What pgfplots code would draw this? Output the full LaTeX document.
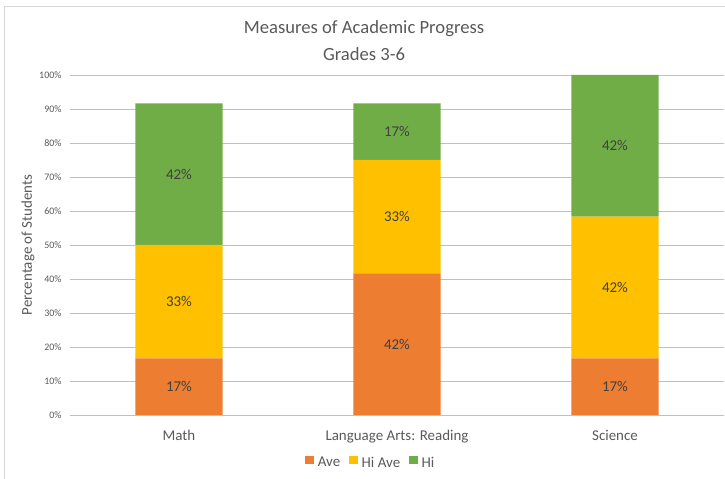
\documentclass[border=0pt]{standalone}
\usepackage{pgfplots}
\pgfplotsset{compat=1.18}
\usepackage{fontspec}
\setmainfont{Carlito}
\definecolor{cAve}{HTML}{ED7D31}
\definecolor{cHiAve}{HTML}{FFC000}
\definecolor{cHi}{HTML}{70AD47}
\definecolor{grid}{HTML}{D9D9D9}
\definecolor{txt}{HTML}{595959}
\definecolor{lbl}{HTML}{404040}
\begin{document}
\begin{tikzpicture}
\path[use as bounding box] (0,0) rectangle (725bp,479bp);
\draw[grid, line width=0.8bp] (4bp,0) -- (4bp,473bp) -- (725bp,473bp);
\node[font=\fontsize{18.7}{21}\selectfont, text=txt] at (364bp,450bp) {Measures of Academic Progress};
\node[font=\fontsize{18.7}{21}\selectfont, text=txt] at (364bp,425bp) {Grades 3-6};
\pgfplotsset{
  common/.style={
    at={(70bp,64bp)}, anchor=south west,
    scale only axis, width=654bp, height=340bp,
    xmin=-0.5, xmax=2.5, ymin=0, ymax=100,
  }
}
\begin{axis}[
  common,
  ybar stacked, bar width=0.4,
  xtick={0,1,2},
  xticklabels={Math, Language Arts: Reading, Science},
  ytick={0,10,...,100},
  yticklabel={\pgfmathprintnumber{\tick}\%},
  /pgf/number format/assume math mode=true,
  tick style={draw=none},
  axis line style={draw=none},
  ymajorgrids, xmajorgrids=false, grid style={grid, line width=0.8bp},
  yticklabel style={font=\fontsize{10}{11}\selectfont, text=txt, xshift=-5bp},
  xticklabel style={font=\fontsize{15}{17}\selectfont, text=txt, yshift=-12bp},
  ylabel={Percentage of Students},
  every axis y label/.style={at={(axis description cs:-0.0642,0.5)}, rotate=90, anchor=center, font=\fontsize{15}{17}\selectfont, text=txt},
  legend style={at={(0.46,-0.141)}, anchor=center, legend columns=3, draw=none, fill=none, font=\fontsize{15}{17}\selectfont, text=txt,
    /tikz/every odd column/.append style={column sep=2bp},
    /tikz/every even column/.append style={column sep=7bp}},
  legend image code/.code={\fill[#1] (0bp,-1.5bp) rectangle (8.5bp,7bp);},
  legend cell align=left,
]
\addplot[fill=cAve, draw=none] coordinates {(0,16.667) (1,41.667) (2,16.667)};
\addplot[fill=cHiAve, draw=none] coordinates {(0,33.333) (1,33.333) (2,41.667)};
\addplot[fill=cHi, draw=none] coordinates {(0,41.667) (1,16.667) (2,41.667)};
\legend{Ave, Hi Ave, Hi}
\end{axis}
\begin{axis}[common, hide axis]
\addplot[draw=none, mark=none, only marks, point meta=explicit symbolic,
  nodes near coords, nodes near coords align=center,
  every node near coord/.append style={font=\fontsize{15}{17}\selectfont, text=lbl}]
  coordinates {
  (0,8.333)[17\%] (0,33.333)[33\%] (0,70.833)[42\%]
  (1,20.833)[42\%] (1,58.333)[33\%] (1,83.333)[17\%]
  (2,8.333)[17\%] (2,37.5)[42\%] (2,79.167)[42\%]
  };
\end{axis}
\end{tikzpicture}
\end{document}
